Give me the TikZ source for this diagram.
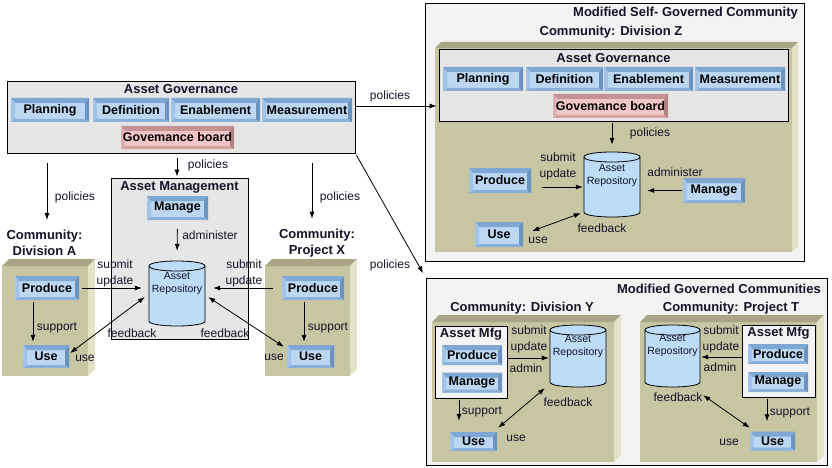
\documentclass[tikz,border=0pt]{standalone}
\usepackage{fontspec}
\setmainfont{Liberation Sans}
\usetikzlibrary{arrows.meta}
\definecolor{btnface}{HTML}{BBD7F2}
\definecolor{btntop}{HTML}{7FA7D3}
\definecolor{btnleft}{HTML}{A2C4E8}
\definecolor{btnbot}{HTML}{8BB0D8}
\definecolor{btnright}{HTML}{6B93C2}
\definecolor{pface}{HTML}{F2C6C6}
\definecolor{ptopc}{HTML}{C49292}
\definecolor{pleft}{HTML}{E2B0B0}
\definecolor{pbot}{HTML}{D6A2A2}
\definecolor{pright}{HTML}{B58282}
\definecolor{govfill}{HTML}{E6E6E6}
\definecolor{outfill}{HTML}{F3F3F3}
\definecolor{pfrontc}{HTML}{C8C5A3}
\definecolor{ptopk}{HTML}{A8A586}
\definecolor{psidek}{HTML}{E3E1C6}
\definecolor{cylfill}{HTML}{BCDCF8}
\definecolor{txt}{HTML}{141428}
\tikzset{
 bevel/.style n args={5}{fill=#1, draw=none, inner sep=0pt, text=black,
  path picture={
   \fill[#2] (path picture bounding box.north west) -- (path picture bounding box.north east) -- ([xshift=-4pt,yshift=-5pt]path picture bounding box.north east) -- ([xshift=4pt,yshift=-5pt]path picture bounding box.north west) -- cycle;
   \fill[#3] (path picture bounding box.north west) -- ([xshift=4pt,yshift=-5pt]path picture bounding box.north west) -- ([xshift=4pt,yshift=3pt]path picture bounding box.south west) -- (path picture bounding box.south west) -- cycle;
   \fill[#4] (path picture bounding box.south west) -- ([xshift=4pt,yshift=3pt]path picture bounding box.south west) -- ([xshift=-4pt,yshift=3pt]path picture bounding box.south east) -- (path picture bounding box.south east) -- cycle;
   \fill[#5] (path picture bounding box.north east) -- (path picture bounding box.south east) -- ([xshift=-4pt,yshift=3pt]path picture bounding box.south east) -- ([xshift=-4pt,yshift=-5pt]path picture bounding box.north east) -- cycle;
  }},
 btn/.style={bevel={btnface}{btntop}{btnleft}{btnbot}{btnright}, font=\fontsize{12.5}{14}\selectfont\bfseries, minimum height=24pt},
 pbtn/.style={bevel={pface}{ptopc}{pleft}{pbot}{pright}, font=\fontsize{12.5}{14}\selectfont\bfseries, minimum height=24pt},
 govbox/.style={draw=black, line width=0.9pt, fill=govfill, inner sep=0pt},
 outbox/.style={draw=black, line width=0.9pt, fill=outfill, inner sep=0pt},
 mfgbox/.style={draw=black, line width=0.9pt, fill=outfill, inner sep=0pt},
 pfront/.style={fill=pfrontc},
 ptop/.style={fill=ptopk},
 pside/.style={fill=psidek},
 cylst/.style={draw=black, line width=0.8pt, fill=cylfill},
 cyltxt/.style={font=\fontsize{10.5}{13}\selectfont, align=center, inner sep=0pt, text=txt},
 ttl/.style={font=\fontsize{13}{16}\selectfont\bfseries, align=center, inner sep=0pt, text=txt},
 lbl/.style={font=\fontsize{12}{16}\selectfont, align=center, inner sep=0pt, text=txt},
 arr/.style={-{Latex[length=7pt,width=5pt]}, line width=0.8pt},
 darr/.style={{Latex[length=7pt,width=5pt]}-{Latex[length=7pt,width=5pt]}, line width=0.8pt},
}
\newcommand\panelbox[5]{%
 \pgfmathsetmacro\pnlA{#1+#5}%
 \pgfmathsetmacro\pnlB{#2+#5}%
 \pgfmathsetmacro\pnlC{#3-#5}%
 \pgfmathsetmacro\pnlD{#4-#5}%
 \fill[pfront] (#1,\pnlB) rectangle (\pnlC,#4);
 \fill[ptop] (#1,\pnlB) -- (\pnlA,#2) -- (#3,#2) -- (\pnlC,\pnlB) -- cycle;
 \fill[pside] (\pnlC,\pnlB) -- (#3,#2) -- (#3,\pnlD) -- (\pnlC,#4) -- cycle;
}
\newcommand\cylrepo[7]{%
 \pgfmathsetmacro\cyA{#3+5}%
 \pgfmathsetmacro\cyB{#5-5}%
 \pgfmathsetmacro\cyC{#3+5+6.67}%
 \pgfmathsetmacro\cyD{#5-5+6.67}%
 \pgfmathsetmacro\cyE{#3+5-6.67}%
 \pgfmathsetmacro\cyX{(#2+#4)/2}%
 \pgfmathsetmacro\cyY{(#3+#5)/2}%
 \pgfmathsetmacro\cyW{#4-#2}%
 \pgfmathsetmacro\cyH{#5-#3}%
 \filldraw[cylst] (#2,\cyA) -- (#2,\cyB) .. controls (#2,\cyD) and (#4,\cyD) .. (#4,\cyB) -- (#4,\cyA) .. controls (#4,\cyE) and (#2,\cyE) .. (#2,\cyA) -- cycle;
 \draw[cylst,fill=none] (#2,\cyA) .. controls (#2,\cyC) and (#4,\cyC) .. (#4,\cyA);
 \node[draw=none, inner sep=0pt, minimum width=\cyW pt, minimum height=\cyH pt] (#1) at (\cyX,\cyY) {};
 \node[cyltxt] (#1t) at (\cyX,#6) {#7};
}
\begin{document}
\begin{tikzpicture}[x=1pt,y=-1pt]
\fill[white] (0,0) rectangle (832,468);
\useasboundingbox (0,0) rectangle (832,468);

% ================= LEFT =================
\node[govbox, minimum width=348pt, minimum height=72pt] (govL) at (181,117) {};
\node[ttl] (govLt) at (181,89) {Asset Governance};
\node[btn, minimum width=78pt] (planL) at (50,110) {Planning};
\node[btn, minimum width=76pt] (defL) at (131,110) {Definition};
\node[btn, minimum width=89pt] (enaL) at (215.5,110) {Enablement};
\node[btn, minimum width=90pt] (meaL) at (307,110) {Measurement};
\node[pbtn, minimum width=113pt, minimum height=23pt] (brdL) at (177.5,137.5) {Govemance board};

\node[govbox, minimum width=137pt, minimum height=161pt] (amg) at (179.5,258.5) {};
\node[ttl] (amgt) at (179.5,187) {Asset Management};
\node[btn, minimum width=61pt] (manA) at (177.5,208) {Manage};
\cylrepo{repoA}{149}{261}{205}{326}{283.5}{Asset\\Repository}

\panelbox{2}{259}{95}{376}{7}
\panelbox{265}{259}{357}{376}{7}
\node[ttl] (commA) at (44.5,243) {Community:\\Division A};
\node[ttl] (commX) at (317,243) {Community:\\Project X};
\node[btn, minimum width=64pt] (prodA) at (47,288) {Produce};
\node[btn, minimum width=46pt, minimum height=23pt] (useA) at (46,356.5) {Use};
\node[btn, minimum width=62pt] (prodX) at (313,288) {Produce};
\node[btn, minimum width=47pt, minimum height=23pt] (useX) at (310.5,356.5) {Use};

\draw[arr, shorten <=5pt, shorten >=1pt] ([xshift=-4pt]govL.south) -- ([xshift=-2.5pt]amg.north);
\node[lbl] (polM) at (208,165) {policies};
\draw[arr, shorten <=10pt, shorten >=10pt] ([xshift=2.5pt]govL.south -| commA.north) -- ([xshift=2.5pt]commA.north);
\node[lbl] (polA) at (75,197) {policies};
\draw[arr, shorten <=10pt, shorten >=10pt] ([xshift=-5pt]govL.south -| commX.north) -- ([xshift=-5pt]commX.north);
\node[lbl] (polX) at (340,197) {policies};

\draw[arr, shorten <=9pt, shorten >=10pt] (manA.south) -- (repoA.north);
\node[lbl] (admA) at (210,235) {administer};

\draw[arr, shorten <=3pt, shorten >=7pt] (prodA.east) -- (prodA.east -| repoA.west);
\node[lbl] (subA) at (115,273) {submit\\update};
\draw[arr, shorten <=9pt, shorten >=8pt] (prodX.west) -- (prodX.west -| repoA.east);
\node[lbl] (subX) at (244,273) {submit\\update};

\draw[arr, shorten <=2pt, shorten >=3pt] ([xshift=-14pt]prodA.south) -- ([xshift=-13pt]useA.north);
\node[lbl] (supA) at (57,328) {support};
\draw[arr, shorten <=2pt, shorten >=3pt] ([xshift=-9pt]prodX.south) -- ([xshift=-6.5pt]useX.north);
\node[lbl] (supX) at (328,328) {support};

\draw[darr] ([xshift=1pt,yshift=3.5pt]useA.east) -- ([xshift=-4pt,yshift=-3.5pt]repoA.west);
\node[lbl] (fbA) at (132,333) {feedback};
\node[lbl] (uA) at (85,358) {use};
\draw[darr] ([xshift=3pt,yshift=-3.5pt]repoA.east) -- ([xshift=-3pt,yshift=-2pt]useX.north west);
\node[lbl] (fbX) at (225,333) {feedback};
\node[lbl] (uX) at (274,357) {use};

% ================= TOP RIGHT =================
\node[outbox, minimum width=379pt, minimum height=258pt] (outZ) at (614.5,132) {};
\node[ttl, anchor=east] (outZt) at (798,13) {Modified Self- Governed Community};
\node[ttl] (commZ) at (611,32) {Community: Division Z};
\panelbox{435}{42}{798}{252}{6}
\node[govbox, minimum width=349pt, minimum height=72pt] (govZ) at (613.5,85) {};
\node[ttl] (govZt) at (613.5,58) {Asset Governance};
\node[btn, minimum width=80pt] (planZ) at (483,79) {Planning};
\node[btn, minimum width=77pt] (defZ) at (564.5,79) {Definition};
\node[btn, minimum width=89pt] (enaZ) at (648.5,79) {Enablement};
\node[btn, minimum width=90pt] (meaZ) at (740,79) {Measurement};
\node[pbtn, minimum width=115pt] (brdZ) at (610.5,106) {Govemance board};

\cylrepo{repoZ}{584}{152}{640}{217}{175}{Asset\\Repository}
\draw[arr, shorten <=2pt, shorten >=7pt] ([xshift=-1.5pt]govZ.south) -- ([xshift=0pt]repoZ.north);
\node[lbl] (polZ) at (650,133) {policies};
\node[btn, minimum width=62pt, minimum height=25pt] (prodZ) at (500,180.5) {Produce};
\node[btn, minimum width=62pt, minimum height=25pt] (manZ) at (714,190.5) {Manage};
\node[btn, minimum width=48pt, minimum height=25pt] (useZ) at (499,234.5) {Use};
\draw[arr, shorten <=11pt, shorten >=1pt] ([yshift=-6.5pt]prodZ.east) -- ([yshift=-6.5pt]prodZ.east -| repoZ.west);
\node[lbl] (subZ) at (558,166) {submit\\update};
\draw[arr, shorten <=1pt, shorten >=7pt] (manZ.west) -- (manZ.west -| repoZ.east);
\node[lbl] (admZ) at (675,172) {administer};
\draw[darr] ([xshift=9pt,yshift=3.5pt]useZ.east) -- ([xshift=-3pt,yshift=4pt]repoZ.south west);
\node[lbl] (fbZ) at (602,228) {feedback};
\node[lbl] (uZ) at (538,240) {use};

% ================= BOTTOM RIGHT =================
\node[outbox, minimum width=401pt, minimum height=187pt] (outB) at (626.5,371.5) {};
\node[ttl, anchor=east] (outBt) at (821,289) {Modified Governed Communities};
\node[ttl] (commY) at (522,308) {Community: Division Y};
\node[ttl] (commT) at (731,308) {Community: Project T};
\panelbox{432}{315}{621}{462}{7}
\panelbox{640}{315}{824}{462}{7}

\node[mfgbox, minimum width=72pt, minimum height=72pt] (mfgY) at (471,362) {};
\node[ttl] (mfgYt) at (471,334) {Asset Mfg};
\node[btn, minimum width=60pt, minimum height=20pt] (prodY) at (472,355) {Produce};
\node[btn, minimum width=60pt, minimum height=20pt] (manY) at (472,382.5) {Manage};
\cylrepo{repoY}{550}{325}{606}{387}{346}{Asset\\Repository}
\node[btn, minimum width=47pt, minimum height=19pt] (useY) at (473.5,441.5) {Use};
\draw[arr, shorten >=1pt] ([yshift=4pt]mfgY.east) -- ([yshift=4pt]mfgY.east -| repoY.west);
\node[lbl] (subY) at (529,339) {submit\\update};
\node[lbl] (admY) at (526,368) {admin};
\draw[arr, shorten <=2pt, shorten >=11pt] ([xshift=-12pt]mfgY.south) -- ([xshift=-14.5pt]useY.north);
\node[lbl] (supY) at (482,412) {support};
\draw[darr] ([xshift=1pt,yshift=4pt]useY.north east) -- ([xshift=-5pt,yshift=-1pt]repoY.south west);
\node[lbl] (fbY) at (568,402) {feedback};
\node[lbl] (uY) at (516,438) {use};

\cylrepo{repoT}{645}{325}{700}{387}{345}{Asset\\Repository}
\node[mfgbox, minimum width=73pt, minimum height=72pt] (mfgT) at (778.5,361) {};
\node[ttl] (mfgTt) at (778.5,333) {Asset Mfg};
\node[btn, minimum width=60pt, minimum height=20pt] (prodT) at (778,354) {Produce};
\node[btn, minimum width=60pt, minimum height=20pt] (manT) at (778,382) {Manage};
\node[btn, minimum width=45pt, minimum height=19pt] (useT) at (772.5,441) {Use};
\draw[arr, shorten >=1pt] ([yshift=4pt]mfgT.west) -- ([yshift=4pt]mfgT.west -| repoT.east);
\node[lbl] (subT) at (721,339) {submit\\update};
\node[lbl] (admT) at (720,367) {admin};
\draw[arr, shorten <=2pt, shorten >=10pt] ([xshift=-11.5pt]mfgT.south) -- ([xshift=-5.5pt]useT.north);
\node[lbl] (supT) at (790,413) {support};
\draw[darr] ([xshift=3pt,yshift=-8pt]repoT.south east) -- ([yshift=3.5pt]useT.north west);
\node[lbl] (fbT) at (678,397) {feedback};
\node[lbl] (uT) at (729,442) {use};

% ================= CONNECTORS BETWEEN GROUPS =================
\draw[arr, shorten >=2pt] ([yshift=11pt]govL.east) -- ([yshift=11pt]govL.east -| govZ.west);
\node[lbl] (polZL) at (390,96) {policies};
\draw[arr, shorten <=2pt, shorten >=5pt] (govL.south east) -- (outB.north west);
\node[lbl] (polBL) at (390,265) {policies};
\end{tikzpicture}
\end{document}
